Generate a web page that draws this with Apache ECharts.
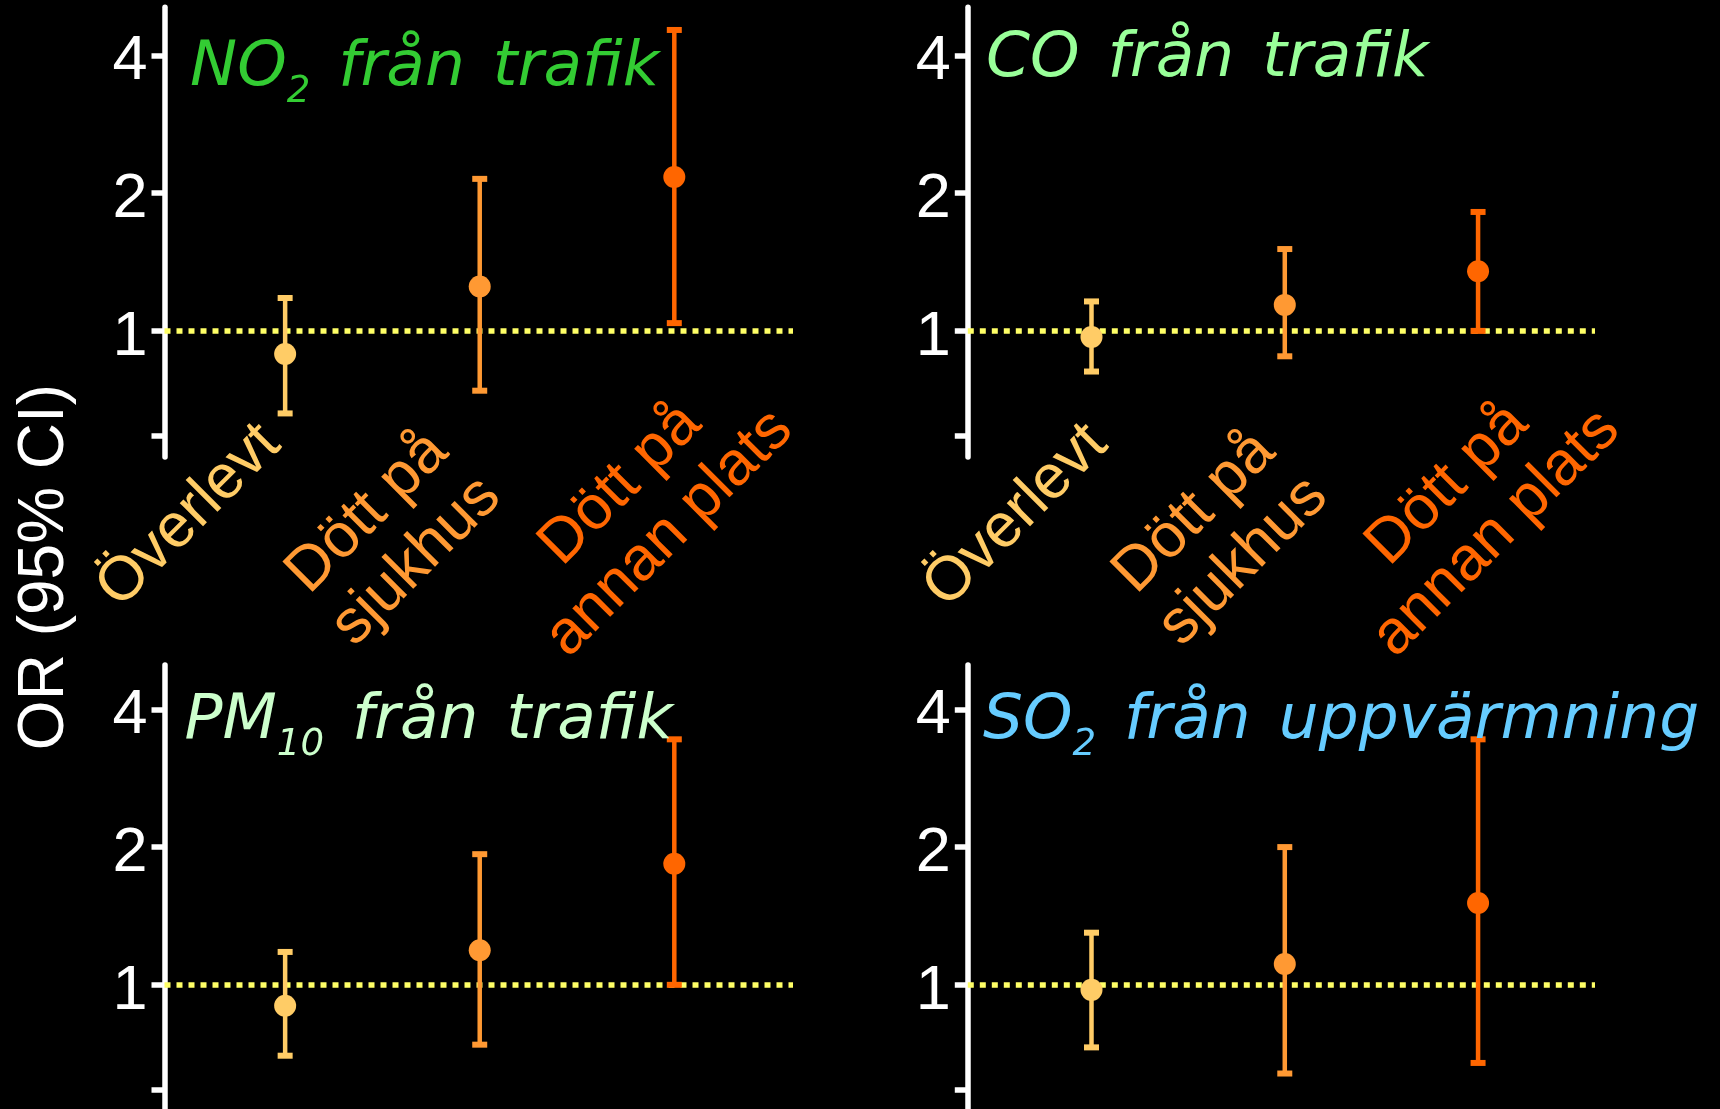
<!DOCTYPE html>
<html>
<head>
<meta charset="utf-8">
<script src="https://cdn.jsdelivr.net/npm/echarts@6/dist/echarts.min.js"></script>
<style>
  html, body { margin: 0; padding: 0; background: #000; }
  #chart { width: 1720px; height: 1109px; }
</style>
</head>
<body>
<div id="chart"></div>
<script>
// Outcome groups (one error bar per group in every panel)
const categories = ['Överlevt', 'Dött på\nsjukhus', 'Dött på\nannan plats'];
const categoryX = [1, 2, 3];

// Odds ratios with 95% confidence limits
const no2Or = [0.89, 1.25, 2.17];
const no2Low = [0.66, 0.74, 1.04];
const no2High = [1.18, 2.15, 4.55];

const coOr = [0.97, 1.14, 1.35];
const coLow = [0.815, 0.88, 1.0];
const coHigh = [1.16, 1.51, 1.82];

const pm10Or = [0.90, 1.19, 1.84];
const pm10Low = [0.70, 0.74, 1.0];
const pm10High = [1.18, 1.93, 3.44];

const so2Or = [0.975, 1.11, 1.51];
const so2Low = [0.73, 0.64, 0.675];
const so2High = [1.30, 2.0, 3.44];

// Axis ticks
const yTickValues = [0.59, 1, 2, 4];
const yLabelValues = [1, 2, 4];
const referenceOr = 1;
const yAxisTitle = 'OR (95% CI)';

// Panel headings: [pollutant, subscript, source]
const titleNo2 = ['NO', '2', 'från trafik'];
const titleCo = ['CO', '', 'från trafik'];
const titlePm10 = ['PM', '10', 'från trafik'];
const titleSo2 = ['SO', '2', 'från uppvärmning'];

const groupColors = ['#ffcc66', '#ff9933', '#ff6600'];
const FONT = '"Liberation Sans", Arial, sans-serif';
const TITLE_FONT = '"DejaVu Sans", Verdana, sans-serif';

const panels = [
  { title: titleNo2, color: '#33cc33', or: no2Or, low: no2Low, high: no2High },
  { title: titleCo, color: '#99ff99', or: coOr, low: coLow, high: coHigh },
  { title: titlePm10, color: '#ccffcc', or: pm10Or, low: pm10Low, high: pm10High },
  { title: titleSo2, color: '#66ccff', or: so2Or, low: so2Low, high: so2High }
];

// Panel geometry
const layout = [
  { left: 164.5, top: 7.3, width: 628.5, height: 449.7, xMin: 0.38, xMax: 3.61, yMax: 5.1, tLeft: 190, tTop: 34 },
  { left: 967.8, top: 7.3, width: 627.2, height: 449.7, xMin: 0.36, xMax: 3.605, yMax: 5.1, tLeft: 986, tTop: 24.5 },
  { left: 164.5, top: 665, width: 628.5, height: 446, xMin: 0.38, xMax: 3.61, yMax: 5.0, tLeft: 184.5, tTop: 686.5 },
  { left: 967.8, top: 665, width: 627.2, height: 446, xMin: 0.36, xMax: 3.605, yMax: 5.0, tLeft: 983, tTop: 686.5 }
];
const yMin = 0.53;

// Rotated group names under the two upper panels
const groupLabelCenters = [
  [[189, 516], [392, 537], [645, 509]],
  [[1016, 516], [1219, 537], [1472, 509]]
];

const chart = echarts.init(document.getElementById('chart'), null, { renderer: 'canvas' });

const grids = [], xAxes = [], yAxes = [], series = [], titles = [], graphics = [];

function headingText(parts) {
  const [main, sub, rest] = parts;
  let s = '{m|' + main + '}';
  if (sub) s += '{s|' + sub + '}';
  rest.split(' ').forEach((w) => { s += '{w| }{m|' + w + '}'; });
  return s;
}

panels.forEach((p, i) => {
  const L = layout[i];
  grids.push({ left: L.left, top: L.top, width: L.width, height: L.height, containLabel: false, outerBoundsMode: 'none' });
  xAxes.push({ type: 'value', gridIndex: i, min: L.xMin, max: L.xMax, show: false });
  yAxes.push({
    type: 'log', logBase: 2, gridIndex: i, min: yMin, max: L.yMax,
    axisLine: { show: true, onZero: false, lineStyle: { color: '#fff', width: 5.5 } },
    axisTick: { show: true, inside: false, length: 13, customValues: yTickValues, lineStyle: { color: '#fff', width: 5.5 } },
    axisLabel: {
      show: true, customValues: yLabelValues, margin: 17,
      formatter: (v) => '{n|' + v + '}',
      rich: { n: { color: '#fff', fontSize: 63, fontFamily: FONT, padding: [13, 0, 0, 0] } }
    },
    splitLine: { show: false }
  });

  const whiskers = categoryX.map((x, k) => [x, p.low[k], p.high[k]]);
  const points = categoryX.map((x, k) => [x, p.or[k]]);

  series.push({
    type: 'custom', xAxisIndex: i, yAxisIndex: i, z: 3, clip: false, silent: true,
    data: whiskers,
    renderItem: function (params, api) {
      const x = api.value(0);
      const pLo = api.coord([x, api.value(1)]);
      const pHi = api.coord([x, api.value(2)]);
      const c = groupColors[params.dataIndex];
      return {
        type: 'group',
        children: [
          { type: 'line', shape: { x1: pLo[0], y1: pLo[1], x2: pHi[0], y2: pHi[1] }, style: { stroke: c, lineWidth: 4.5 } },
          { type: 'rect', shape: { x: pHi[0] - 7.5, y: pHi[1] - 3, width: 15, height: 6 }, style: { fill: c } },
          { type: 'rect', shape: { x: pLo[0] - 7.5, y: pLo[1] - 3, width: 15, height: 6 }, style: { fill: c } }
        ]
      };
    },
    markLine: {
      silent: true, symbol: 'none', z: 1, animation: false,
      label: { show: false },
      lineStyle: { color: '#ffff66', width: 5.5, type: [6, 6] },
      data: [{ yAxis: referenceOr }]
    }
  });

  series.push({
    type: 'scatter', xAxisIndex: i, yAxisIndex: i, z: 4, silent: true,
    symbol: 'circle', symbolSize: 22,
    itemStyle: { color: (prm) => groupColors[prm.dataIndex], opacity: 1 },
    data: points
  });

  const base = { color: p.color, fontStyle: 'italic', fontWeight: 'normal', fontFamily: TITLE_FONT };
  titles.push({
    text: headingText(p.title), left: L.tLeft, top: L.tTop, padding: 0,
    textStyle: {
      fontWeight: 'normal',
      rich: {
        m: Object.assign({ fontSize: 63, lineHeight: 70 }, base),
        w: Object.assign({ fontSize: 63, lineHeight: 70, width: 28 }, base),
        // subscript: pushed down inside the 70px line
        s: Object.assign({ fontSize: 37, lineHeight: 70, verticalAlign: 'top', padding: [40, 0, 0, 0] }, base)
      }
    }
  });
});

groupLabelCenters.forEach((centers) => {
  centers.forEach((c, k) => {
    graphics.push({
      type: 'text', x: c[0], y: c[1], rotation: Math.PI / 4, silent: true,
      style: {
        text: categories[k], fill: groupColors[k], fontSize: 62, fontFamily: FONT,
        align: 'center', verticalAlign: 'middle', lineHeight: 69
      }
    });
  });
});

graphics.push({
  type: 'text', x: 45, y: 567, rotation: Math.PI / 2, silent: true,
  style: { text: yAxisTitle, fill: '#fff', fontSize: 64, fontFamily: FONT, align: 'center', verticalAlign: 'middle' }
});

chart.setOption({
  backgroundColor: '#000',
  animation: false,
  title: titles,
  grid: grids,
  xAxis: xAxes,
  yAxis: yAxes,
  series: series,
  graphic: graphics
});
</script>
</body>
</html>
